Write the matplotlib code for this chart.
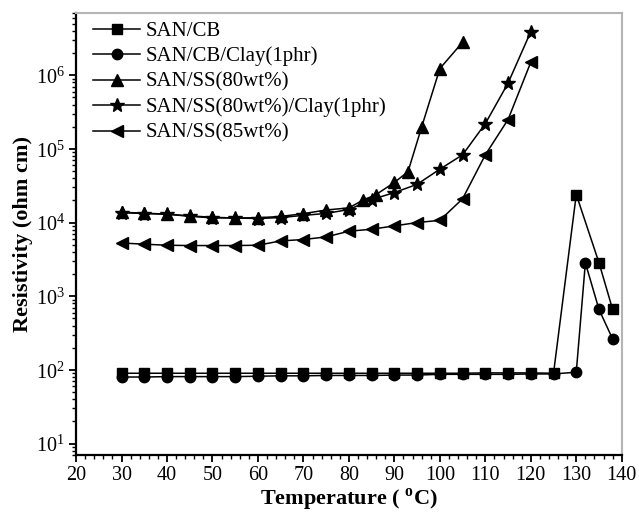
import numpy as np
import matplotlib
matplotlib.use('Agg')
import matplotlib.pyplot as plt
from matplotlib.ticker import MultipleLocator, FixedLocator, NullFormatter

plt.rcParams['font.family'] = 'Liberation Serif'
plt.rcParams['mathtext.fontset'] = 'custom'
plt.rcParams['mathtext.rm'] = 'Liberation Serif'
plt.rcParams['mathtext.bf'] = 'Liberation Serif:bold'

# SAN/CB and SAN/CB/Clay(1phr)
t_cb = [30, 35, 40, 45, 50, 55, 60, 65, 70, 75, 80, 85, 90, 95, 100, 105,
        110, 115, 120, 125, 130, 135, 138]
r_cb = [90, 90, 90, 90, 90, 90, 90, 90, 90, 90, 90, 90, 90, 90, 90, 90,
        91, 91, 91, 90, 24000, 2840, 660]
t_cbclay = [30, 35, 40, 45, 50, 55, 60, 65, 70, 75, 80, 85, 90, 95, 100,
            105, 110, 115, 120, 125, 130, 132, 135, 138]
r_cbclay = [80, 80, 81, 81, 81, 81, 82, 83, 83, 84, 84, 84, 85, 85, 87,
            87, 87, 87, 88, 88, 93, 2840, 660, 262]

# SAN/SS(80wt%)
t_ss80 = [30, 35, 40, 45, 50, 55, 60, 65, 70, 75, 80, 83, 86, 90, 93, 96,
          100, 105]
r_ss80 = [13800, 13400, 13000, 12300, 11800, 11500, 11600, 12100, 13200,
          14800, 15800, 20000, 24000, 35000, 49000, 198000, 1230000, 2800000]

# SAN/SS(80wt%)/Clay(1phr)
t_ss80clay = [30, 35, 40, 45, 50, 55, 60, 65, 70, 75, 80, 85, 90, 95, 100,
              105, 110, 115, 120]
r_ss80clay = [13600, 13250, 12950, 12170, 11550, 11550, 11330, 11690, 12500,
              13300, 15000, 20500, 25500, 33000, 53000, 83000, 220000,
              780000, 3900000]

# SAN/SS(85wt%)
t_ss85 = [30, 35, 40, 45, 50, 55, 60, 65, 70, 75, 80, 85, 90, 95, 100, 105,
          110, 115, 120]
r_ss85 = [5280, 5080, 4920, 4870, 4870, 4870, 4920, 5630, 5880, 6380, 7620,
          8110, 9000, 10000, 10700, 21000, 83000, 250000, 1500000]

fig, ax = plt.subplots(figsize=(6.39, 5.17), dpi=100)
plt.subplots_adjust(left=0.119, right=0.973, bottom=0.12, top=0.975)

kw = dict(color='black', lw=1.1)
ax.plot(t_cb, r_cb, marker='s', ms=6.5, label='SAN/CB', **kw)
ax.plot(t_cbclay, r_cbclay, marker='o', ms=7.5, label='SAN/CB/Clay(1phr)', **kw)
ax.plot(t_ss80, r_ss80, marker='^', ms=8.5, label='SAN/SS(80wt%)', **kw)
ax.plot(t_ss80clay, r_ss80clay, marker='*', ms=10,
        label='SAN/SS(80wt%)/Clay(1phr)', **kw)
ax.plot(t_ss85, r_ss85, marker='<', ms=8.5, label='SAN/SS(85wt%)', **kw)

ymin, ymax = 7, 7e6
ax.set_yscale('log')
ax.set_xlim(20, 140)
ax.set_ylim(ymin, ymax)
ax.xaxis.set_major_locator(MultipleLocator(10))
ax.xaxis.set_minor_locator(MultipleLocator(2))

# decades and in-between ticks, only those inside the axis range
major = [10.0 ** k for k in range(1, 7)]
minor = [m * 10.0 ** k for k in range(0, 7) for m in range(2, 10)]
minor = [v for v in minor if ymin <= v <= ymax]
ax.yaxis.set_major_locator(FixedLocator(major))
ax.yaxis.set_minor_locator(FixedLocator(minor))
ax.yaxis.set_minor_formatter(NullFormatter())
ax.set_yticklabels([r'$10^{%d}$' % k for k in range(1, 7)])

ax.tick_params(which='major', direction='out', length=5, width=1.3,
               labelsize=14.5, top=False, right=False, pad=3)
ax.tick_params(which='minor', direction='out', length=3, width=1.0,
               top=False, right=False)

for s in ['left', 'bottom']:
    ax.spines[s].set_linewidth(1.6)
    ax.spines[s].set_color('black')
for s in ['top', 'right']:
    ax.spines[s].set_linewidth(1.5)
    ax.spines[s].set_color('#b4b4b4')

ax.set_xlabel(r'Temperature ( $^{\mathbf{o}}$C)', fontsize=16,
              fontweight='bold', labelpad=1)
ax.set_ylabel('Resistivity (ohm cm)', fontsize=16, fontweight='bold',
              labelpad=2)

ax.legend(loc='upper left', frameon=False, fontsize=15, handlelength=2.25,
          handletextpad=0.25, labelspacing=0.28, borderaxespad=0.0,
          bbox_to_anchor=(0.016, 1.0))

fig.savefig('out.png', dpi=100)
